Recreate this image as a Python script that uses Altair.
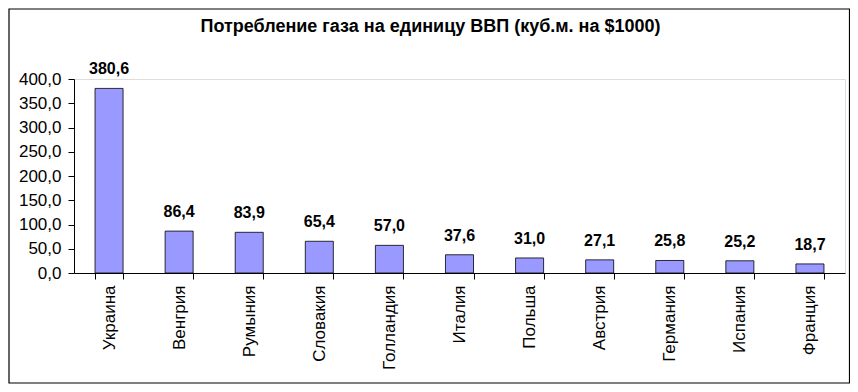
import altair as alt
import pandas as pd

countries = ["Украина", "Венгрия", "Румыния", "Словакия", "Голландия", "Италия",
             "Польша", "Австрия", "Германия", "Испания", "Франция"]
values = [380.6, 86.4, 83.9, 65.4, 57.0, 37.6, 31.0, 27.1, 25.8, 25.2, 18.7]
y_ticks = [0, 50, 100, 150, 200, 250, 300, 350, 400]

df = pd.DataFrame({"country": countries, "value": values})

FONT = "Liberation Sans"

base = alt.Chart(df).transform_calculate(
    label="replace(format(datum.value, '.1f'), '.', ',')"
)

x_enc = alt.X(
    "country:N", sort=countries,
    scale=alt.Scale(paddingInner=0.6, paddingOuter=0.3),
    axis=alt.Axis(title=None, labelAngle=-90, labelAlign="right", labelBaseline="middle",
                  labelFont=FONT, labelFontSize=17, labelColor="black", labelPadding=6,
                  tickBand="extent", tickSize=6, tickColor="black", domainColor="black",
                  labelOverlap=False),
)
y_enc = alt.Y(
    "value:Q", scale=alt.Scale(domain=[0, 400], nice=False),
    axis=alt.Axis(title=None, values=y_ticks, tickCount=9, grid=False, labelOverlap=False,
                  labelExpr="replace(format(datum.value, '.1f'), '.', ',')",
                  labelFont=FONT, labelFontSize=17, labelColor="black", labelPadding=7,
                  tickSize=6, tickColor="black", domainColor="black"),
)

bars = base.mark_bar(color="#9999FF", stroke="black", strokeWidth=0.8).encode(x=x_enc, y=y_enc)

labels = base.mark_text(font=FONT, fontSize=16, fontWeight="bold", baseline="bottom",
                        dy=-11, color="black").encode(x=x_enc, y=y_enc, text="label:N")

frame = alt.Chart(pd.DataFrame({"a": [0]})).mark_rect(
    fill="transparent", stroke="black", strokeWidth=1.2).encode(
    x=alt.value(-65), x2=alt.value(775.5), y=alt.value(-70), y2=alt.value(304))

chart = alt.layer(frame, bars, labels).properties(
    width=771, height=194,
    autosize=alt.AutoSizeParams(type="none"),
    padding={"left": 66, "top": 71, "right": 5, "bottom": 111},
    title=alt.Title("Потребление газа на единицу ВВП (куб.м. на $1000)",
                    font=FONT, fontSize=18, fontWeight="bold", color="black",
                    anchor="middle", dx=-29, offset=-28),
).configure_view(stroke=None, strokeWidth=0).configure(background="white")

chart.save("out.html", embed_options={"renderer": "svg", "actions": False})
